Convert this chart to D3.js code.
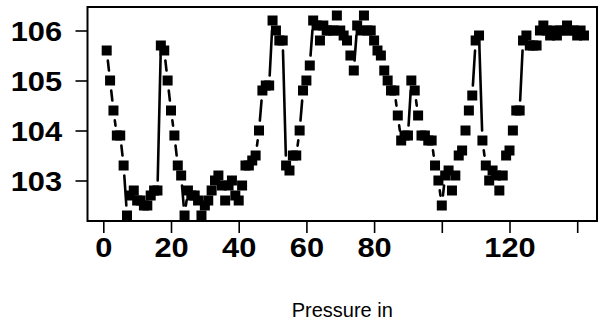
<!DOCTYPE html>
<html>
<head>
<meta charset="utf-8">
<script src="https://cdn.jsdelivr.net/npm/d3@7"></script>
<style>
  body { margin: 0; background: #fff; }
  text { font-family: "Liberation Sans", Arial, sans-serif; }
</style>
</head>
<body>
<svg id="chart" width="602" height="320"></svg>
<script>
// readings, one per observation (x = observation number)
const pressure = [
  105.6, 105.0, 104.4, 103.9, 103.9, 103.3, 102.3, 102.7, 102.8, 102.6,
  102.6, 102.5, 102.5, 102.7, 102.8, 102.8, 105.7, 105.6, 105.0, 104.4,
  103.9, 103.3, 103.1, 102.3, 102.8, 102.7, 102.7, 102.6, 102.3, 102.5,
  102.6, 102.8, 103.0, 103.1, 102.9, 102.6, 102.9, 103.0, 102.7, 102.6,
  102.9, 103.3, 103.3, 103.4, 103.5, 104.0, 104.8, 104.9, 104.9, 106.2,
  106.0, 105.8, 105.8, 103.3, 103.2, 103.5, 103.5, 104.0, 104.8, 105.0,
  105.3, 106.2, 106.1, 105.8, 106.1, 106.0, 106.0, 106.0, 106.3, 106.0,
  105.9, 105.8, 105.5, 105.2, 106.1, 106.0, 106.3, 106.0, 106.0, 105.8,
  105.6, 105.5, 105.2, 105.0, 104.8, 104.8, 104.3, 103.8, 103.9, 103.9,
  105.0, 104.8, 104.3, 103.9, 103.9, 103.8, 103.8, 103.3, 103.0, 102.5,
  103.1, 103.2, 102.8, 103.1, 103.5, 103.6, 104.0, 104.4, 104.7, 105.8,
  105.9, 103.8, 103.3, 103.0, 103.2, 103.1, 102.8, 103.1, 103.5, 103.6,
  104.0, 104.4, 104.4, 105.8, 105.9, 105.7, 105.7, 105.7, 106.0, 106.1,
  106.0, 105.9, 106.0, 105.9, 106.0, 106.0, 106.1, 106.0, 106.0, 105.9,
  106.0, 105.9
];
const xTicks = [0, 20, 40, 60, 80, 100, 120, 140];
const xTickLabels = ["0", "20", "40", "60", "80", "", "120", ""];
const yTicks = [103, 104, 105, 106];
const xTitle = "Pressure in";

const box = { left: 87.5, right: 597, top: 7, bottom: 221 };
const stretch = 1.1;
const gap = 10;

const data = pressure.map((v, i) => ({ x: i + 1, y: v }));

const x = d3.scaleLinear()
    .domain([-4.67, 145.85])
    .range([box.left, box.right]);
const y = d3.scaleLinear()
    .domain([102.19, 106.47])
    .range([box.bottom, box.top]);

const svg = d3.select('#chart');

// x axis
const xAxis = svg.append('g')
    .attr('transform', `translate(0, ${box.bottom})`)
    .call(d3.axisBottom(x)
        .tickValues(xTicks)
        .tickSize(12)
        .tickPadding(4)
        .tickFormat((d, i) => xTickLabels[i]));
xAxis.select('.domain').remove();
xAxis.selectAll('line').attr('stroke', '#000').attr('stroke-width', 1.6);
xAxis.selectAll('text')
    .attr('fill', '#000')
    .style('font-size', '28px')
    .style('font-weight', 'bold')
    .attr('transform', `scale(${stretch}, 1)`);

// y axis
const yAxis = svg.append('g')
    .attr('transform', `translate(${box.left}, 0)`)
    .call(d3.axisLeft(y)
        .tickValues(yTicks)
        .tickSize(12)
        .tickFormat(d3.format('d')));
yAxis.select('.domain').remove();
yAxis.selectAll('line').attr('stroke', '#000').attr('stroke-width', 1.6);
yAxis.selectAll('text')
    .attr('fill', '#000')
    .attr('x', -25.5 / stretch)
    .attr('dy', '0.36em')
    .style('font-size', '28px')
    .style('font-weight', 'bold')
    .attr('transform', `scale(${stretch}, 1)`);

// frame
svg.append('rect')
    .attr('x', box.left)
    .attr('y', box.top)
    .attr('width', box.right - box.left)
    .attr('height', box.bottom - box.top)
    .attr('fill', 'none')
    .attr('stroke', '#000')
    .attr('stroke-width', 2);

// connecting segments, broken around each point
const segs = d3.pairs(data).map(([a, b]) => {
    const x1 = x(a.x), y1 = y(a.y), x2 = x(b.x), y2 = y(b.y);
    const len = Math.hypot(x2 - x1, y2 - y1);
    return { x1, y1, x2, y2, len };
}).filter(s => s.len > 2 * gap + 1);

svg.append('g')
    .selectAll('line')
    .data(segs)
    .enter()
    .append('line')
    .attr('x1', s => s.x1 + (s.x2 - s.x1) * gap / s.len)
    .attr('y1', s => s.y1 + (s.y2 - s.y1) * gap / s.len)
    .attr('x2', s => s.x2 - (s.x2 - s.x1) * gap / s.len)
    .attr('y2', s => s.y2 - (s.y2 - s.y1) * gap / s.len)
    .attr('stroke', '#000')
    .attr('stroke-width', 2.6)
    .attr('stroke-linecap', 'round');

// points
svg.append('g')
    .selectAll('rect')
    .data(data)
    .enter()
    .append('rect')
    .attr('x', d => x(d.x) - 5)
    .attr('y', d => y(d.y) - 5)
    .attr('width', 10)
    .attr('height', 10)
    .attr('fill', '#000');

// axis title
svg.append('text')
    .attr('x', (box.left + box.right) / 2)
    .attr('y', 317)
    .attr('text-anchor', 'middle')
    .style('font-size', '20px')
    .attr('fill', '#000')
    .text(xTitle);
</script>
</body>
</html>
